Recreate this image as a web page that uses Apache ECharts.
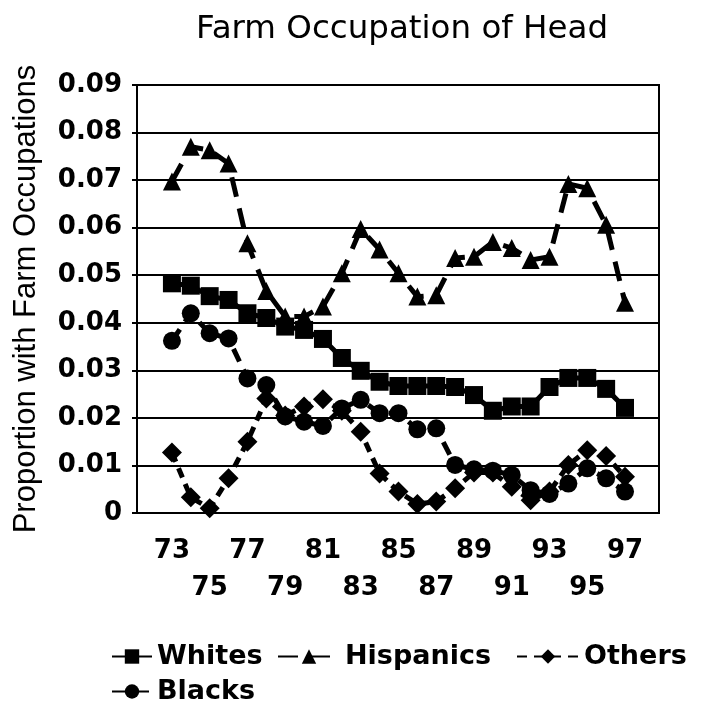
<!DOCTYPE html>
<html>
<head>
<meta charset="utf-8">
<script src="https://cdn.jsdelivr.net/npm/echarts@6/dist/echarts.min.js"></script>
<style>
  html, body { margin: 0; padding: 0; background: #fff; }
  #chart { width: 701px; height: 711px; }
</style>
</head>
<body>
<div id="chart"></div>
<script>
// survey years (19xx)
var years = [73, 74, 75, 76, 77, 78, 79, 80, 81, 82, 83, 84, 85, 86, 87, 88, 89, 90, 91, 92, 93, 94, 95, 96, 97];
var yearLabels = [73, 75, 77, 79, 81, 83, 85, 87, 89, 91, 93, 95, 97];

// proportion with farm occupations
var whites = [0.0483, 0.0478, 0.0456, 0.0448, 0.0420, 0.0410, 0.0392, 0.0385, 0.0366, 0.0326, 0.0299, 0.0276, 0.0267,
  0.0267, 0.0267, 0.0265, 0.0248, 0.0215, 0.0224, 0.0224, 0.0265, 0.0284, 0.0284, 0.0261, 0.0221];
var hispanics = [0.0697, 0.0770, 0.0763, 0.0735, 0.0567, 0.0467, 0.0413, 0.0413, 0.0434, 0.0504, 0.0597, 0.0554, 0.0504,
  0.0455, 0.0458, 0.0536, 0.0539, 0.0570, 0.0557, 0.0532, 0.0539, 0.0692, 0.0683, 0.0606, 0.0442];
var others = [0.0127, 0.0033, 0.0010, 0.0073, 0.0150, 0.0241, 0.0205, 0.0224, 0.0239, 0.0215, 0.0171, 0.0083, 0.0045,
  0.0019, 0.0024, 0.0052, 0.0085, 0.0085, 0.0055, 0.0027, 0.0045, 0.0101, 0.0132, 0.0120, 0.0076];
var blacks = [0.0362, 0.0420, 0.0378, 0.0367, 0.0283, 0.0269, 0.0203, 0.0192, 0.0183, 0.0220, 0.0238, 0.0210, 0.0210,
  0.0176, 0.0178, 0.0101, 0.0092, 0.0089, 0.0080, 0.0048, 0.0040, 0.0062, 0.0094, 0.0073, 0.0045];

function pairs(vals) {
  return years.map(function (y, i) { return [y, vals[i]]; });
}

var myChart = echarts.init(document.getElementById('chart'));

var boldFont = 'DejaVu Sans';
var legendText = { fontFamily: boldFont, fontWeight: 'bold', fontSize: 27, color: '#000' };

// one legend per entry so each sits where the original put it
function legendItem(name, left, top, width) {
  return {
    data: [name], left: left, top: top,
    itemWidth: width, itemHeight: 18,
    textStyle: legendText
  };
}

var option = {
  backgroundColor: '#fff',
  animation: false,
  title: {
    text: 'Farm Occupation of Head',
    left: 397,
    textAlign: 'center',
    top: 8,
    textStyle: { fontFamily: 'DejaVu Sans', fontWeight: 'normal', fontSize: 32.5, color: '#000' }
  },
  legend: [
    legendItem('Whites', 106, 638, 40),
    legendItem('Hispanics', 272, 638, 62),
    legendItem('Others', 511, 638, 62),
    legendItem('Blacks', 106, 673, 40)
  ],
  grid: {
    left: 137, right: 42, top: 85, bottom: 198,
    outerBoundsMode: 'none',
    show: true, borderColor: '#000', borderWidth: 2
  },
  xAxis: {
    type: 'value',
    min: 71.15,
    max: 98.8,
    axisLine: { show: true, lineStyle: { color: '#000', width: 2 } },
    axisTick: { show: false },
    splitLine: { show: false },
    axisLabel: {
      customValues: yearLabels,
      margin: 20,
      lineHeight: 37,
      fontFamily: boldFont,
      fontWeight: 'bold',
      fontSize: 26,
      color: '#000',
      formatter: function (v) {
        var k = Math.round((v - 73) / 2);
        return k % 2 === 1 ? '\n' + v : String(v);
      }
    }
  },
  yAxis: {
    type: 'value',
    min: 0,
    max: 0.09,
    interval: 0.01,
    name: 'Proportion with Farm Occupations',
    nameLocation: 'middle',
    nameRotate: 90,
    nameGap: 95,
    nameTextStyle: { fontFamily: 'Liberation Sans', fontSize: 31, color: '#000' },
    axisLine: { show: true, lineStyle: { color: '#000', width: 2 } },
    axisTick: { show: true, length: 5, lineStyle: { color: '#000', width: 2 } },
    splitLine: { show: true, lineStyle: { color: '#000', width: 2 } },
    axisLabel: {
      margin: 15,
      fontFamily: boldFont,
      fontWeight: 'bold',
      fontSize: 26,
      color: '#000',
      formatter: function (v) { return v === 0 ? '0' : v.toFixed(2); }
    }
  },
  series: [
    {
      name: 'Whites', type: 'line', data: pairs(whites),
      symbol: 'rect', symbolSize: 18,
      itemStyle: { color: '#000' },
      lineStyle: { color: '#000', width: 5, type: 'solid' }
    },
    {
      name: 'Hispanics', type: 'line', data: pairs(hispanics),
      symbol: 'triangle', symbolSize: 18,
      itemStyle: { color: '#000' },
      lineStyle: { color: '#000', width: 5, type: [20, 12] }
    },
    {
      name: 'Others', type: 'line', data: pairs(others),
      symbol: 'diamond', symbolSize: 20,
      itemStyle: { color: '#000' },
      lineStyle: { color: '#000', width: 5, type: [10, 7] }
    },
    {
      name: 'Blacks', type: 'line', data: pairs(blacks),
      symbol: 'circle', symbolSize: 18,
      itemStyle: { color: '#000' },
      lineStyle: { color: '#000', width: 5, type: [14, 9] }
    }
  ]
};

myChart.setOption(option);
</script>
</body>
</html>
